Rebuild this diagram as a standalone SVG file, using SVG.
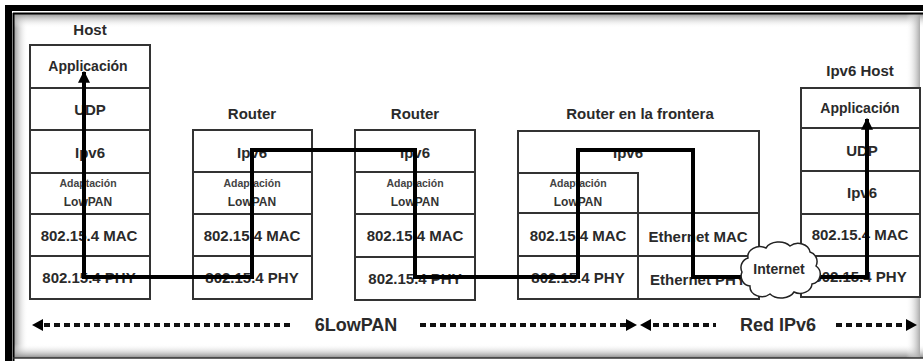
<svg xmlns="http://www.w3.org/2000/svg" width="923" height="361" viewBox="0 0 923 361">
<style>
.box{fill:#fff;stroke:#333;stroke-width:2}
.ln{stroke:#333;stroke-width:2;fill:none}
.t{font-family:"Liberation Sans",Arial,sans-serif;font-weight:bold;fill:#2a2a2a;text-anchor:middle;dominant-baseline:central}
.s15{font-size:15px}
.s14{font-size:14px}
.sm{font-size:10.5px;fill:#444}
.lp{font-size:12px;fill:#333}
.big{font-size:18px}
.path{fill:none;stroke:#000;stroke-width:4;stroke-linejoin:miter}
.dot{stroke:#111;stroke-width:4;stroke-dasharray:6 4}
</style>
<defs>
<marker id="ah" viewBox="0 0 10 10" refX="9" refY="5" markerWidth="3" markerHeight="3.2" orient="auto-start-reverse" markerUnits="strokeWidth">
<path d="M0,0 L10,5 L0,10 z" fill="#000"/>
</marker>
<linearGradient id="gL" x1="0" y1="0" x2="1" y2="0"><stop offset="0" stop-color="#999"/><stop offset="1" stop-color="#fff" stop-opacity="0"/></linearGradient>
<linearGradient id="gT" x1="0" y1="0" x2="0" y2="1"><stop offset="0" stop-color="#999"/><stop offset="1" stop-color="#fff" stop-opacity="0"/></linearGradient>
<linearGradient id="gB" x1="0" y1="1" x2="0" y2="0"><stop offset="0" stop-color="#888"/><stop offset="1" stop-color="#fff" stop-opacity="0"/></linearGradient>
<linearGradient id="gR" x1="1" y1="0" x2="0" y2="0"><stop offset="0" stop-color="#aaa"/><stop offset="1" stop-color="#fff" stop-opacity="0"/></linearGradient>
</defs>
<rect width="923" height="361" fill="#fff"/>
<g id="frame">
<rect x="14" y="14" width="14" height="344" fill="url(#gL)"/>
<rect x="14" y="14" width="909" height="14" fill="url(#gT)"/>
<rect x="14" y="344" width="909" height="14" fill="url(#gB)"/>
<rect x="906" y="14" width="14" height="344" fill="url(#gR)"/>
<rect x="5" y="5" width="7" height="356" fill="#000"/>
<rect x="5" y="5" width="918" height="6" fill="#000"/>
<line x1="13.5" y1="13" x2="13.5" y2="361" stroke="#000" stroke-width="2"/>
<line x1="13" y1="13.5" x2="923" y2="13.5" stroke="#000" stroke-width="2"/>
<line x1="13" y1="358" x2="923" y2="358" stroke="#333" stroke-width="1.5"/>
</g>
<g id="host">
<text class="t s15" x="90" y="29">Host</text>
<rect class="box" x="30" y="45" width="120" height="254"/>
<path class="ln" d="M30,88H150M30,130H150M30,173H150M30,214H150M30,256H150"/>
<text class="t s14" x="88" y="66">Applicación</text>
<text class="t s15" x="90" y="109">UDP</text>
<text class="t s15" x="90" y="152">Ipv6</text>
<text class="t sm" x="88" y="183">Adaptación</text>
<text class="t lp" x="88" y="202">LowPAN</text>
<text class="t s15" x="89" y="235">802.15.4 MAC</text>
<text class="t s15" x="89" y="277">802.15.4 PHY</text>
</g>
<g id="router1">
<text class="t s15" x="252" y="113">Router</text>
<rect class="box" x="193" y="130" width="119" height="169"/>
<path class="ln" d="M193,172H312M193,214H312M193,256H312"/>
<text class="t s15" x="252" y="152">Ipv6</text>
<text class="t sm" x="252" y="183">Adaptación</text>
<text class="t lp" x="252" y="202">LowPAN</text>
<text class="t s15" x="252" y="235">802.15.4 MAC</text>
<text class="t s15" x="252" y="277">802.15.4 PHY</text>
</g>
<g id="router2">
<text class="t s15" x="415" y="113">Router</text>
<rect class="box" x="355" y="130" width="120" height="170"/>
<path class="ln" d="M355,172H475M355,214H475M355,257H475"/>
<text class="t s15" x="415" y="152">Ipv6</text>
<text class="t sm" x="415" y="183">Adaptación</text>
<text class="t lp" x="415" y="202">LowPAN</text>
<text class="t s15" x="415" y="235">802.15.4 MAC</text>
<text class="t s15" x="415" y="278">802.15.4 PHY</text>
</g>
<g id="border-router">
<text class="t s15" x="640" y="113">Router en la frontera</text>
<rect class="box" x="518" y="131" width="241" height="168"/>
<path class="ln" d="M518,173H638V299M518,213H759M518,256H759"/>
<text class="t s15" x="628" y="152">Ipv6</text>
<text class="t sm" x="578" y="183">Adaptación</text>
<text class="t lp" x="578" y="202">LowPAN</text>
<text class="t s15" x="578" y="235">802.15.4 MAC</text>
<text class="t s15" x="578" y="277">802.15.4 PHY</text>
<text class="t s15" x="698" y="236">Ethernet MAC</text>
<text class="t s15" x="698" y="279">Ethernet PHY</text>
</g>
<g id="ipv6-host">
<text class="t s15" x="860" y="70">Ipv6 Host</text>
<rect class="box" x="801" y="88" width="119" height="209"/>
<path class="ln" d="M801,128H920M801,171H920M801,214H920M801,256H920"/>
<text class="t s14" x="860" y="108">Applicación</text>
<text class="t s15" x="862" y="150">UDP</text>
<text class="t s15" x="862" y="192">Ipv6</text>
<text class="t s15" x="860" y="234">802.15.4 MAC</text>
<text class="t s15" x="860" y="276">802.15.4 PHY</text>
</g>
<g id="connectors">
<path class="path" marker-start="url(#ah)" marker-end="url(#ah)" d="M84,72 L84,277 L252,277 L252,150 L415,150 L415,277 L578,277 L578,150 L693,150 L693,277 L867,277 L867,119"/>
</g>
<g id="internet">
<path d="M748,258 A12 10 0 0 1 766,248 A14 10 0 0 1 790,246 A12 10 0 0 1 810,252 A10 10 0 0 1 816,266 A10 10 0 0 1 812,284 A12 10 0 0 1 794,292 A14 10 0 0 1 770,294 A12 10 0 0 1 750,286 A10 10 0 0 1 742,272 A10 10 0 0 1 748,258 Z" fill="#fff" stroke="#222" stroke-width="1.5"/>
<text class="t s14" x="779" y="269">Internet</text>
</g>
<g id="scale">
<line class="dot" x1="44" y1="325" x2="290" y2="325"/>
<polygon points="32,325 43,319 43,331" fill="#000"/>
<text class="t big" x="356" y="325">6LowPAN</text>
<line class="dot" x1="420" y1="325" x2="626" y2="325"/>
<polygon points="637,325 626,319 626,331" fill="#000"/>
<polygon points="640,325 651,319 651,331" fill="#000"/>
<line class="dot" x1="653" y1="325" x2="716" y2="325"/>
<text class="t big" x="778" y="325">Red IPv6</text>
<line class="dot" x1="836" y1="325" x2="906" y2="325"/>
<polygon points="917,325 906,319 906,331" fill="#000"/>
</g>
</svg>
